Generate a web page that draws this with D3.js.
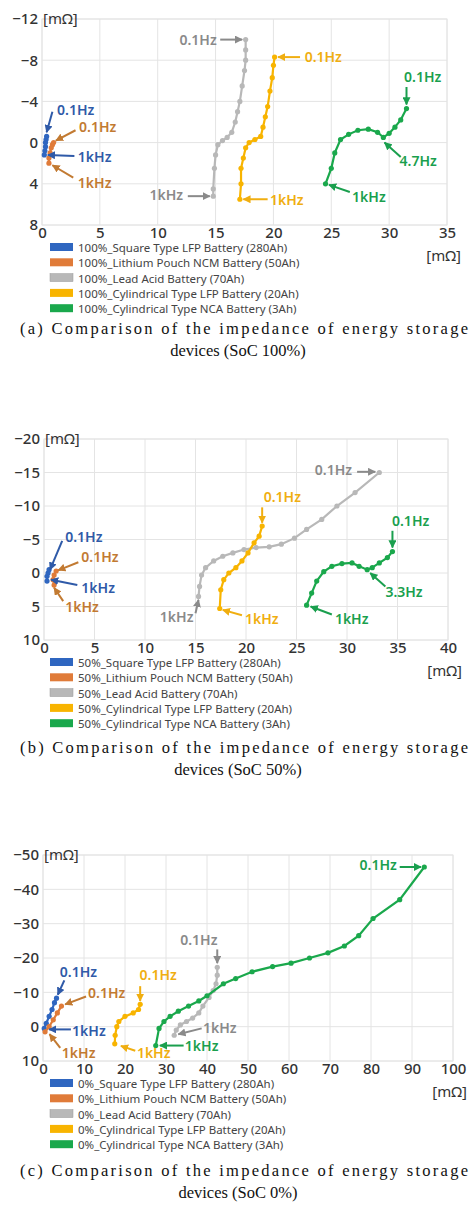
<!DOCTYPE html>
<html><head><meta charset="utf-8">
<script src="https://cdn.jsdelivr.net/npm/d3@7"></script>
<style>body{margin:0;background:#fff}svg{display:block}</style>
</head><body>
<script>
const seriesNames = ["Square Type LFP Battery (280Ah)","Lithium Pouch NCM Battery (50Ah)","Lead Acid Battery (70Ah)","Cylindrical Type LFP Battery (20Ah)","Cylindrical Type NCA Battery (3Ah)"];
const colors = ["#2f66c0","#e07b39","#b8b8b8","#f8b400","#1aa84c"];
const textColors = ["#2f5aa8","#c27a32","#8a8a8a","#f0ae10","#1a9f4e"];

// panel (a) SoC 100%: [Z', Z''] in mΩ
const a_blue = [[0.2,1.2],[0.25,0.8],[0.3,0.4],[0.3,0],[0.35,-0.3],[0.4,-0.6]];
const a_orange = [[0.6,2.0],[0.6,1.5],[0.7,1.0],[0.8,0.5],[0.9,0.2],[1.0,0]];
const a_gray = [[14.8,5.2],[14.8,4.5],[14.9,2.5],[15.0,1.2],[15.2,0.2],[15.6,-0.2],[16.0,-0.5],[16.4,-1.0],[16.7,-2.0],[16.9,-3.0],[17.1,-4.0],[17.3,-5.5],[17.5,-7.0],[17.6,-8.0],[17.6,-9.0],[17.6,-10.0]];
const a_yellow = [[17.1,5.5],[17.2,4.0],[17.2,2.5],[17.4,1.5],[17.6,0.5],[17.9,0],[18.4,-0.3],[18.9,-0.6],[19.1,-1.5],[19.3,-2.5],[19.5,-3.5],[19.7,-5.0],[19.9,-6.3],[20.0,-7.5],[20.1,-8.3]];
const a_green = [[24.5,4.0],[25.0,2.5],[25.3,1.0],[25.8,-0.3],[26.5,-0.8],[27.3,-1.2],[28.2,-1.3],[29.0,-1.0],[29.5,-0.5],[30.0,-0.9],[30.5,-1.5],[31.0,-2.2],[31.5,-3.3]];
const a_xTicks = [0,5,10,15,20,25,30,35];
const a_yTicks = [-12,-8,-4,0,4,8];
// [text, colourIndex, labelX, labelY, anchor, arrowX1, arrowY1, arrowX2, arrowY2]
const a_notes = [
 ["0.1Hz",2,15.1,-10,"end",15.4,-10,17.3,-10],
 ["0.1Hz",3,22.7,-8.3,"start",22.3,-8.3,20.4,-8.3],
 ["0.1Hz",4,32.9,-6.4,"middle",31.5,-5.4,31.5,-3.7],
 ["4.7Hz",4,30.9,1.8,"start",31.0,1.4,29.6,0],
 ["1kHz",4,26.8,5.3,"start",26.6,4.8,24.8,4.1],
 ["1kHz",2,12.2,5.1,"end",12.6,5.2,14.5,5.2],
 ["1kHz",3,19.7,5.6,"start",19.5,5.5,17.4,5.5],
 ["0.1Hz",0,1.3,-3.2,"start",0.9,-3.0,0.4,-1.0],
 ["0.1Hz",1,3.2,-1.5,"start",2.9,-1.2,1.2,-0.2],
 ["1kHz",0,3.1,1.4,"start",2.8,1.3,0.5,1.2],
 ["1kHz",1,3.1,3.9,"start",2.7,3.4,0.9,2.2]
];

// panel (b) SoC 50%
const b_blue = [[0.3,1.2],[0.3,0.5],[0.4,0],[0.5,-0.5]];
const b_orange = [[1.0,1.8],[0.9,1.0],[1.0,0.3],[1.2,-0.3]];
const b_gray = [[15.3,3.5],[15.4,2.0],[15.6,0.3],[16.0,-0.8],[16.8,-1.8],[17.7,-2.5],[18.7,-3.0],[19.8,-3.5],[21.0,-3.8],[22.3,-3.9],[23.5,-4.3],[24.8,-5.2],[26.0,-6.5],[27.5,-8.0],[29.0,-10.0],[30.8,-12.0],[33.2,-15.0]];
const b_yellow = [[17.4,5.3],[17.5,2.5],[17.8,1.0],[18.3,0],[19.0,-0.8],[19.6,-1.8],[20.2,-3.0],[20.8,-4.5],[21.3,-5.5],[21.6,-7.0]];
const b_green = [[26.0,4.8],[26.5,3.0],[27.0,1.2],[27.7,-0.2],[28.5,-1.0],[29.5,-1.4],[30.5,-1.5],[31.2,-1.0],[32.0,-0.5],[32.5,-0.8],[33.2,-1.5],[34.0,-2.3],[34.5,-3.2]];
const b_xTicks = [0,5,10,15,20,25,30,35,40];
const b_yTicks = [-20,-15,-10,-5,0,5,10];
const b_notes = [
 ["0.1Hz",2,30.5,-15.4,"end",31.0,-15.1,32.8,-15.1],
 ["0.1Hz",3,23.6,-11.3,"middle",21.6,-9.8,21.6,-7.5],
 ["0.1Hz",4,36.3,-7.8,"middle",34.5,-6.3,34.5,-3.8],
 ["3.3Hz",4,33.8,2.8,"start",33.8,2.0,32.3,0],
 ["1kHz",4,28.8,6.9,"start",28.5,6.2,26.4,5.0],
 ["1kHz",2,14.8,6.6,"end",15.0,6.0,15.3,4.0],
 ["1kHz",3,19.9,6.9,"start",19.6,6.3,17.7,5.5],
 ["0.1Hz",0,2.1,-5.3,"start",1.8,-4.8,0.6,-0.5],
 ["0.1Hz",1,3.7,-2.3,"start",3.4,-1.6,1.4,-0.4],
 ["1kHz",0,3.7,2.2,"start",3.3,1.8,0.7,1.0],
 ["1kHz",1,2.1,5.1,"start",1.9,4.2,1.0,2.2]
];

// panel (c) SoC 0%
const c_blue = [[0.3,0.5],[0.8,-1],[1.5,-3],[2.2,-5],[2.8,-7],[3.3,-8.3]];
const c_orange = [[0.5,1.5],[1.5,0],[2.5,-2],[3.5,-4],[4.5,-6]];
const c_gray = [[32.0,2.5],[32.5,1.0],[33.5,-0.5],[35,-1.5],[36.5,-2.5],[38,-4],[39,-6],[40.5,-8.5],[41.5,-10.5],[42.2,-12.5],[42.5,-15],[42.5,-17.3]];
const c_yellow = [[17.5,5.0],[17.6,2.5],[18,0],[18.5,-1.5],[20,-3],[22,-4],[23.3,-5],[23.7,-6.5]];
const c_green = [[27.5,5.5],[28.3,0.5],[29.5,-1.5],[31,-3],[33,-4.5],[35.5,-6],[38,-7.5],[40,-9],[44,-12.5],[47,-14],[51,-16],[56,-17.5],[60.5,-18.5],[65,-20],[69.5,-21.5],[73.5,-23.5],[77,-26.5],[80.5,-31.5],[87,-37],[93,-46.5]];
const c_xTicks = [0,10,20,30,40,50,60,70,80,90,100];
const c_yTicks = [-50,-40,-30,-20,-10,0,10];
const c_notes = [
 ["0.1Hz",4,86.3,-47.1,"end",87,-46.5,92.2,-46.5],
 ["0.1Hz",2,38,-25.2,"middle",42.5,-22.5,42.5,-18.5],
 ["0.1Hz",0,4.1,-15.9,"start",5.2,-13.5,3.6,-9.3],
 ["0.1Hz",3,28.1,-15,"middle",23.7,-11.8,23.7,-7.5],
 ["0.1Hz",1,11,-9.8,"start",10.5,-8.8,5.4,-6.5],
 ["1kHz",0,7.1,1.3,"start",6.8,0.8,1.5,0.8],
 ["1kHz",2,39,0.4,"start",38.7,0.5,33,2.2],
 ["1kHz",4,34.6,5.7,"start",34.3,5.5,28.5,5.5],
 ["1kHz",1,4.6,7.6,"start",4.2,6.2,1.6,2.2],
 ["1kHz",3,22.9,7.8,"start",22.5,7.0,19,5.6]
];

const panels = [
 {soc:"100%", series:[a_blue,a_orange,a_gray,a_yellow,a_green], xt:a_xTicks, yt:a_yTicks, notes:a_notes,
  box:[42,447,19,225], cap:["(a) Comparison of the impedance of energy storage","devices (SoC  100%)"], capY:334},
 {soc:"50%", series:[b_blue,b_orange,b_gray,b_yellow,b_green], xt:b_xTicks, yt:b_yTicks, notes:b_notes,
  box:[44,448,439,640], cap:["(b) Comparison of the impedance of energy storage","devices (SoC  50%)"], capY:753},
 {soc:"0%", series:[c_blue,c_orange,c_gray,c_yellow,c_green], xt:c_xTicks, yt:c_yTicks, notes:c_notes,
  box:[43,453,855,1061], cap:["(c) Comparison of the impedance of energy storage","devices (SoC  0%)"], capY:1176}
];

const svg = d3.select("body").append("svg").attr("width",476).attr("height",1228);
const defs = svg.append("defs");
textColors.forEach((c,i)=>{
  defs.append("marker").attr("id","ar"+i).attr("viewBox","0 0 10 10").attr("refX",9).attr("refY",5)
   .attr("markerWidth",4).attr("markerHeight",4).attr("orient","auto")
   .append("path").attr("d","M0,0L10,5L0,10z").attr("fill",c);
});
const font = "'Noto Sans', sans-serif";

panels.forEach(p=>{
  const [x0,x1,y0,y1] = p.box;
  const x = d3.scaleLinear().domain([p.xt[0],p.xt[p.xt.length-1]]).range([x0,x1]);
  const y = d3.scaleLinear().domain([p.yt[0],p.yt[p.yt.length-1]]).range([y0,y1]);
  const g = svg.append("g");
  g.append("rect").attr("x",x0).attr("y",y0).attr("width",x1-x0).attr("height",y1-y0).attr("fill","none").attr("stroke","#e6e6e6");
  g.selectAll(".vg").data(p.xt).join("line").attr("x1",d=>x(d)).attr("x2",d=>x(d)).attr("y1",y0).attr("y2",y1).attr("stroke","#e4e4e4");
  g.selectAll(".hg").data(p.yt).join("line").attr("y1",d=>y(d)).attr("y2",d=>y(d)).attr("x1",x0).attr("x2",x1).attr("stroke","#e4e4e4");
  const xa = g.append("g").attr("transform",`translate(0,${y1})`).call(d3.axisBottom(x).tickValues(p.xt).tickSize(0).tickPadding(2));
  const ya = g.append("g").attr("transform",`translate(${x0},0)`).call(d3.axisLeft(y).tickValues(p.yt).tickSize(0).tickPadding(4));
  [xa,ya].forEach(a=>{a.select(".domain").remove(); a.selectAll("text").attr("font-family",font).attr("font-size",15).attr("font-weight",500).attr("fill","#333");});
  g.append("text").attr("x",x0+1).attr("y",y0+5).attr("font-family",font).attr("font-size",15).attr("fill","#333").text("[mΩ]");
  g.append("text").attr("x",x1+14).attr("y",y1+36).attr("text-anchor","end").attr("font-family",font).attr("font-size",15).attr("fill","#333").text("[mΩ]");
  const line = d3.line().x(d=>x(d[0])).y(d=>y(d[1]));
  p.series.forEach((s,i)=>{
    g.append("path").attr("d",line(s)).attr("fill","none").attr("stroke",colors[i]).attr("stroke-width",2.2);
    g.selectAll(null).data(s).join("circle").attr("cx",d=>x(d[0])).attr("cy",d=>y(d[1])).attr("r",2.6).attr("fill",colors[i]);
  });
  p.notes.forEach(n=>{
    const [t,ci,lx,ly,anc,ax1,ay1,ax2,ay2] = n;
    g.append("line").attr("x1",x(ax1)).attr("y1",y(ay1)).attr("x2",x(ax2)).attr("y2",y(ay2))
     .attr("stroke",textColors[ci]).attr("stroke-width",2).attr("marker-end",`url(#ar${ci})`);
    g.append("text").attr("x",x(lx)).attr("y",y(ly)).attr("dy","0.35em").attr("text-anchor",anc)
     .attr("font-family",font).attr("font-size",14).attr("font-weight",600).attr("fill",textColors[ci]).text(t);
  });
  const lg = g.append("g");
  seriesNames.forEach((nm,i)=>{
    const ly = y1+23+i*15.3;
    lg.append("rect").attr("x",50).attr("y",ly-5).attr("width",23).attr("height",8).attr("fill",colors[i]).attr("stroke",i==2?"#999":"none").attr("stroke-width",0.5);
    lg.append("text").attr("x",78).attr("y",ly).attr("dy","0.35em").attr("font-family",font).attr("font-size",11.5).attr("fill","#444").text(p.soc+"_"+nm);
  });
  svg.append("text").attr("x",20).attr("y",p.capY).attr("textLength",448).attr("lengthAdjust","spacing")
   .attr("font-family","'Liberation Serif', serif").attr("font-size",16.5).attr("fill","#111").text(p.cap[0]);
  svg.append("text").attr("x",238).attr("y",p.capY+22).attr("text-anchor","middle")
   .attr("font-family","'Liberation Serif', serif").attr("font-size",16.5).attr("fill","#111").text(p.cap[1]);
});
</script>
</body></html>
